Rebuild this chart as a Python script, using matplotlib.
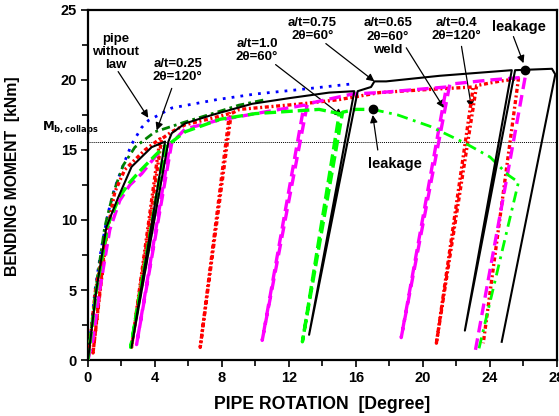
import matplotlib
matplotlib.use("Agg")
import matplotlib.pyplot as plt

plt.rcParams['font.family'] = ['Liberation Sans', 'DejaVu Sans']
plt.rcParams['font.weight'] = 'bold'

# ---- test curves: pipe rotation [deg] vs bending moment [kNm] ----
# pipe without flaw
blue_x = [0, 0.2, 0.42, 0.8, 1.2, 1.6, 2.0, 2.6, 3.2, 3.6, 5.0, 7.7, 10.0, 12.5, 15.6]
blue_y = [0, 2.5, 5.0, 8.0, 10.5, 12.3, 13.6, 15.4, 16.6, 17.1, 18.0, 18.6, 19.0, 19.3, 19.7]

# a/t=0.25, 2theta=120
dgreen_x = [0, 0.45, 1.0, 1.5, 2.1, 2.8, 4.0, 5.8, 7.7, 9.0, 10.6]
dgreen_y = [0, 5.0, 9.5, 11.9, 13.9, 15.2, 16.3, 17.0, 17.7, 18.2, 18.6]

# a/t=0.75, 2theta=60
black_x = [0, 0.5, 1.1, 1.8, 2.6, 3.8, 4.6, 2.6, 4.8, 5.0, 5.8, 7.4, 9.8, 12.0, 14.4, 15.9,
           13.2, 16.1, 16.9, 17.1, 17.8, 21.0, 25.3, 22.5, 25.5, 27.7, 27.9, 24.7]
black_y = [0, 5.0, 9.5, 11.6, 13.8, 15.2, 15.6, 0.9, 15.6, 16.2, 16.9, 17.5, 18.3, 18.7, 19.1, 19.2,
           1.8, 19.2, 19.5, 19.9, 19.9, 20.3, 20.7, 2.1, 20.7, 20.8, 20.4, 1.3]

# a/t=0.4, 2theta=120
red_x = [0, 0.45, 1.05, 0.3, 1.1, 1.6, 2.2, 3.4, 4.3, 2.6, 4.4, 5.0, 5.8, 7.5, 8.45, 6.7, 8.55,
         9.05, 12.8, 15.0, 17.4, 20.0, 23.0, 20.8, 23.2, 24.5, 25.7, 23.6]
red_y = [0, 5.0, 8.7, 0.5, 8.8, 12.0, 13.6, 15.0, 15.8, 0.9, 15.8, 16.3, 16.8, 17.3, 17.6, 0.9, 17.6,
         17.9, 18.3, 18.6, 19.1, 19.3, 19.5, 1.2, 19.6, 19.9, 20.1, 1.2]

# a/t=0.65, 2theta=60, weld
mag_x = [0, 0.3, 0.7, 1.3, 1.9, 2.5, 3.2, 4.0, 4.9, 2.9, 5.0, 5.8, 7.7, 10.0, 12.9, 10.4, 13.1,
         15.8, 17.4, 21.4, 18.7, 21.6, 24.0, 26.1, 23.1]
mag_y = [0, 1.5, 5.0, 9.3, 11.4, 12.5, 13.3, 14.5, 15.4, 1.1, 15.5, 16.5, 17.1, 17.6, 18.2, 1.4, 18.3,
         19.0, 19.1, 19.5, 1.6, 19.7, 20.0, 20.2, 0.5]

# a/t=1.0, 2theta=60 (up to leakage)
lgreen_x = [0, 0.5, 1.2, 1.9, 2.5, 3.1, 4.0, 4.6, 2.55, 4.7, 5.8, 7.9, 10.0, 13.8, 15.0, 12.8, 15.2,
            16.0, 17.0]
lgreen_y = [0, 5.0, 9.7, 11.7, 12.7, 13.5, 14.6, 15.3, 0.9, 15.3, 16.3, 17.2, 17.6, 17.9, 17.6, 1.3, 17.7,
            17.9, 17.9]
# a/t=1.0 after leakage
leak_x = [17.0, 18.5, 20.4, 22.5, 24.0, 25.1, 25.7, 23.3]
leak_y = [17.9, 17.5, 16.7, 15.5, 14.5, 13.2, 12.7, 0.6]

# leakage points
leak_pts_x = [17.0, 26.1]
leak_pts_y = [17.9, 20.7]

m_collapse = 15.6

x_ticks = [0, 4, 8, 12, 16, 20, 24, 28]
y_ticks = [0, 5, 10, 15, 20, 25]

fig = plt.figure(figsize=(5.59, 4.16), dpi=100)
ax = fig.add_axes([0.1574, 0.1346, 0.8390, 0.8414])

ax.axhline(m_collapse, color='black', lw=0.7, ls=(0, (1, 1)), zorder=1)

ax.plot(blue_x, blue_y, color='#0000ff', lw=2.0, ls=(0, (1, 2.2)), zorder=3)
ax.plot(dgreen_x, dgreen_y, color='#008000', lw=2.0, ls=(0, (3, 1.5, 1, 1.5)), zorder=3)
ax.plot(red_x, red_y, color='#ff0000', lw=2.4, ls=(0, (1.2, 0.8, 0.6, 0.8)), zorder=4)
ax.plot(mag_x, mag_y, color='#ff00ff', lw=2.4, ls=(0, (3.5, 1.8)), zorder=4)
ax.plot(lgreen_x, lgreen_y, color='#00ff00', lw=2.4, ls=(0, (3.5, 1.5)), zorder=4)
ax.plot(leak_x, leak_y, color='#00ff00', lw=2.0, ls=(0, (4, 2, 1, 2)), zorder=4)
ax.plot(black_x, black_y, color='black', lw=1.5, zorder=5)
ax.plot(leak_pts_x, leak_pts_y, 'o', color='black', ms=6, zorder=6)

ax.set_xlim(0, 28)
ax.set_ylim(0, 25)
ax.set_xticks(x_ticks)
ax.set_yticks(y_ticks)
ax.set_xticks([2, 6, 10, 14, 18, 22, 26], minor=True)
ax.set_yticks([2.5, 7.5, 12.5, 17.5, 22.5], minor=True)
ax.tick_params(which='both', direction='out', width=1.2, labelsize=10.5, pad=3)
ax.tick_params(which='major', length=5)
ax.tick_params(which='minor', length=4)
for lab in ax.get_xticklabels() + ax.get_yticklabels():
    lab.set_fontweight('bold')
for sp in ax.spines.values():
    sp.set_linewidth(1.6)

ax.set_xlabel('PIPE ROTATION  [Degree]', fontsize=12.7, fontweight='bold', labelpad=8)
ax.set_ylabel('BENDING MOMENT  [kNm]', fontsize=11.3, fontweight='bold')
ax.yaxis.set_label_coords(-0.145, 0.526)

ax.text(-2.75, 16.6, r'$\mathbf{M}_{\mathbf{b,collaps}}$', fontsize=8.5, ha='left', va='center',
        clip_on=False)

arrow = dict(arrowstyle='-|>', color='black', lw=0.9, mutation_scale=11, shrinkA=0, shrinkB=0)
kw = dict(fontsize=9.5, fontweight='bold', ha='center', va='center', linespacing=1.15)

ax.text(1.65, 22.0, 'pipe\nwithout\nlaw', **kw)
ax.annotate('', xy=(3.6, 17.3), xytext=(1.8, 20.6), arrowprops=arrow)

ax.text(5.35, 20.7, 'a/t=0.25\n2θ=120°', **kw)
ax.annotate('', xy=(4.1, 16.4), xytext=(5.0, 19.4), arrowprops=arrow)

ax.text(10.1, 22.1, 'a/t=1.0\n2θ=60°', **kw)
ax.annotate('', xy=(15.2, 17.4), xytext=(11.2, 21.1), arrowprops=arrow)

ax.text(13.4, 23.6, 'a/t=0.75\n2θ=60°', **kw)
ax.annotate('', xy=(17.1, 19.9), xytext=(14.2, 22.6), arrowprops=arrow)

ax.text(17.9, 23.1, 'a/t=0.65\n2θ=60°\nweld', **kw)
ax.annotate('', xy=(21.25, 18.0), xytext=(19.0, 22.3), arrowprops=arrow)

ax.text(22.0, 23.6, 'a/t=0.4\n2θ=120°', **kw)
ax.annotate('', xy=(22.9, 18.0), xytext=(22.3, 22.4), arrowprops=arrow)

ax.text(25.7, 23.8, 'leakage', fontsize=10.5, fontweight='bold', ha='center', va='center')
ax.annotate('', xy=(26.0, 21.2), xytext=(25.4, 23.1), arrowprops=arrow)

ax.text(18.3, 14.0, 'leakage', fontsize=10.5, fontweight='bold', ha='center', va='center')
ax.annotate('', xy=(17.0, 17.5), xytext=(17.3, 15.0), arrowprops=arrow)

fig.savefig('out.png', dpi=100)
